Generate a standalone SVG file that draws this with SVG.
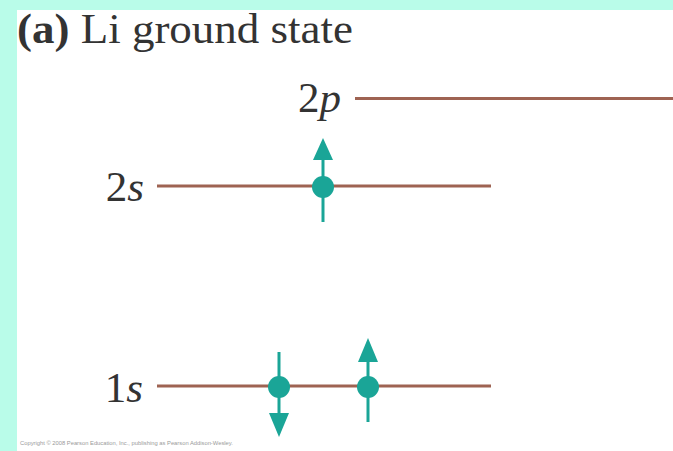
<svg xmlns="http://www.w3.org/2000/svg" width="673" height="451" viewBox="0 0 673 451">
<defs>
<style>
.lvl{stroke:#9e6352;stroke-width:3;fill:none}
.lab{font-family:"Liberation Serif","Times New Roman",serif;font-size:43px;fill:#333}
.it{font-style:italic}
.e{fill:#1aa597}
.sh{stroke:#1aa597;stroke-width:3;fill:none}
</style>
</defs>
<rect x="0" y="0" width="673" height="451" fill="#b9fce9"/>
<rect x="17" y="10" width="656" height="441" fill="#ffffff"/>
<text id="title" x="17" y="43" class="lab" style="font-size:43px" textLength="336" lengthAdjust="spacingAndGlyphs"><tspan font-weight="bold">(a)</tspan> Li ground state</text>
<g id="level-2p">
<text x="341" y="112" class="lab" text-anchor="end">2<tspan class="it">p</tspan></text>
<line class="lvl" x1="355" y1="98.5" x2="673" y2="98.5"/>
</g>
<g id="level-2s">
<text x="144" y="201" class="lab" text-anchor="end">2<tspan class="it">s</tspan></text>
<line class="lvl" x1="157" y1="186" x2="491" y2="186"/>
</g>
<g id="level-1s">
<text x="143" y="402" class="lab" text-anchor="end">1<tspan class="it">s</tspan></text>
<line class="lvl" x1="157" y1="386" x2="491" y2="386"/>
</g>
<g id="electron-2s-up">
<line class="sh" x1="323" y1="222" x2="323" y2="156"/>
<polygon class="e" points="323,138 313,160 333,160"/>
<circle class="e" cx="323" cy="187" r="11"/>
</g>
<g id="electron-1s-down">
<line class="sh" x1="279" y1="352" x2="279" y2="418"/>
<polygon class="e" points="279,437 269,413 289,413"/>
<circle class="e" cx="279" cy="387" r="11"/>
</g>
<g id="electron-1s-up">
<line class="sh" x1="368" y1="422" x2="368" y2="356"/>
<polygon class="e" points="368,338 358,362 378,362"/>
<circle class="e" cx="368" cy="387" r="11"/>
</g>
<text x="20" y="445" font-family="Liberation Sans, Arial, sans-serif" font-size="5.8" fill="#9a9a9a">Copyright © 2008 Pearson Education, Inc., publishing as Pearson Addison-Wesley.</text>
</svg>
